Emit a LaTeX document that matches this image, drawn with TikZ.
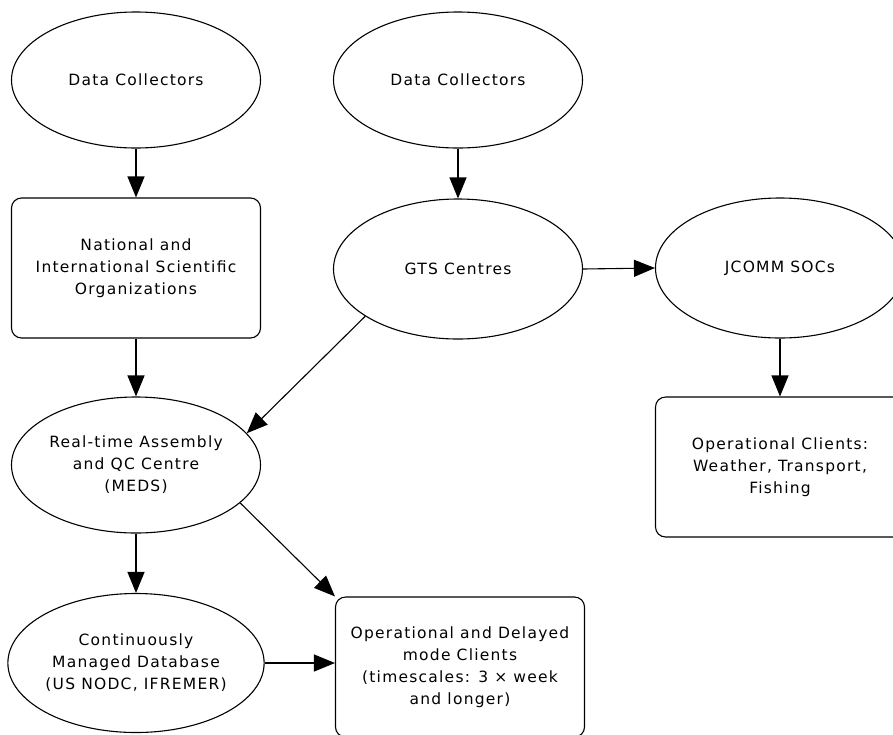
\documentclass[tikz,border=0pt]{standalone}
\usepackage{fontspec}
\setmainfont{DejaVu Sans}[LetterSpace=8]
\usetikzlibrary{shapes.geometric,arrows.meta}
\begin{document}
\begin{tikzpicture}[x=1pt,y=-1pt,
  ell/.style={draw,ellipse,minimum width=249pt,minimum height=136pt,inner sep=0pt,align=center,line width=1.1pt},
  box/.style={draw,rectangle,rounded corners=10pt,minimum width=249pt,minimum height=140pt,inner sep=0pt,align=center,line width=1.1pt},
  arr/.style={-{Triangle[length=21pt,width=17pt]},line width=1.1pt},
  every node/.append style={font=\fontsize{15.5}{22}\selectfont}]
\clip (0,0) rectangle (893,734);
\node[ell] (dc1) at (136,80) {Data Collectors};
\node[ell] (dc2) at (458,80) {Data Collectors};
\node[box] (org) at (136,268) {National and\\International Scientific\\Organizations};
\node[ell,minimum height=140pt] (gts) at (458,269) {GTS Centres};
\node[ell,minimum height=140pt] (jc) at (780,268) {JCOMM SOCs};
\node[ell] (rt) at (136,465) {Real-time Assembly\\and QC Centre\\(MEDS)};
\node[box] (opc) at (780,467) {Operational Clients:\\Weather, Transport,\\Fishing};
\node[ell,minimum height=139pt] (cmd) at (136,663) {Continuously\\Managed Database\\(US NODC, IFREMER)};
\node[box] (opd) at (460,667) {Operational and Delayed\\mode Clients\\(timescales: 3 × week\\and longer)};
\draw[arr] (dc1) -- (org);
\draw[arr] (dc2) -- (gts);
\draw[arr] (gts.east) -- (jc.west);
\draw[arr] (org) -- (rt);
\draw[arr] (jc) -- (opc);
\draw[arr] (rt) -- (cmd);
\draw[arr] (cmd.east) -- (opd.west |- cmd.east);
\draw[arr] (gts.207.6) -- (rt.16);
\draw[arr] (rt.340) -- (opd.north west);
\end{tikzpicture}
\end{document}
